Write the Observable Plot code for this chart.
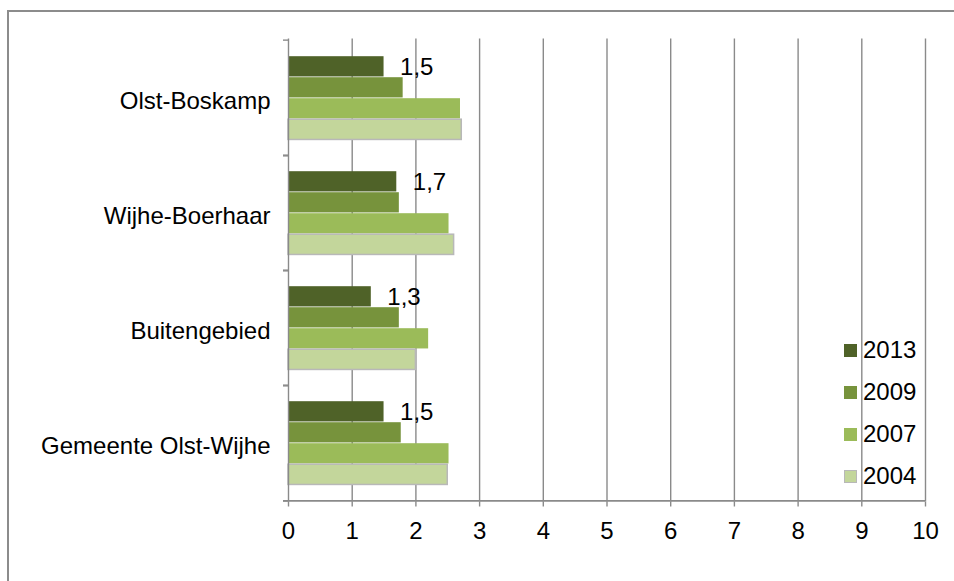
<!DOCTYPE html>
<html>
<head>
<meta charset="utf-8">
<script src="https://cdn.jsdelivr.net/npm/d3@7"></script>
<script src="https://cdn.jsdelivr.net/npm/@observablehq/plot@0.6"></script>
<style>
  html, body { margin: 0; padding: 0; background: #fff; }
  body { width: 954px; height: 581px; position: relative; overflow: hidden; font-family: "Liberation Sans", Arial, sans-serif; }
  #frame { position: absolute; left: 7px; top: 10px; width: 990px; height: 620px; border: 2px solid #8c8c8c; box-sizing: border-box; }
  #chart { position: absolute; left: 0; top: 0; }
  #legend { position: absolute; left: 844px; top: 0; }
  .item { position: absolute; left: 0; display: flex; align-items: center; white-space: nowrap; font-size: 24px; color: #000; height: 30px; }
  .sw { width: 13px; height: 13px; margin-right: 6px; box-sizing: border-box; }
</style>
</head>
<body>
<div id="frame"></div>
<div id="chart"></div>
<div id="legend"></div>
<script>
// ---- data ----
const categories = ["Olst-Boskamp", "Wijhe-Boerhaar", "Buitengebied", "Gemeente Olst-Wijhe"];
const years = ["2013", "2009", "2007", "2004"];
const values2013 = [1.5, 1.7, 1.3, 1.5];
const values2009 = [1.8, 1.74, 1.74, 1.77];
const values2007 = [2.7, 2.52, 2.2, 2.52];
const values2004 = [2.72, 2.6, 2.0, 2.5];
const xTicks = [0, 1, 2, 3, 4, 5, 6, 7, 8, 9, 10];
const colors = ["#4f6228", "#77933c", "#9bbb59", "#c3d69b"];

const series = [values2013, values2009, values2007, values2004];
const data = [];
categories.forEach((c, i) => {
  years.forEach((y, j) => data.push({cat: c, year: y, value: series[j][i]}));
});
const labelData = data.filter(d => d.year === "2013");

// layout (pixels)
const W = 954, H = 581;
const mTop = 38.5, mBottom = 79.5, mLeft = 288, mRight = 29;
const bw = (H - mTop - mBottom) / categories.length;   // band of one category
const barH = 21, padTop = 16.2;                         // grouped bar geometry
const font = "Liberation Sans, Arial, sans-serif";
const axisGray = "#8a8a8a";

const barMarks = years.map((yr, j) => {
  const top = padTop + j * barH;
  return Plot.barX(data.filter(d => d.year === yr), {
    y: "cat", x: "value", fill: "year",
    insetTop: top, insetBottom: bw - top - barH,
    ...(yr === "2004" ? {stroke: "#b8b8b8", strokeWidth: 1.5} : {})
  });
});

const chart = Plot.plot({
  width: W, height: H,
  marginTop: mTop, marginBottom: mBottom, marginLeft: mLeft, marginRight: mRight,
  style: {fontFamily: font, fontSize: "24px", color: "#000", background: "transparent", overflow: "visible"},
  x: {domain: [0, 10], ticks: xTicks, axis: null},
  y: {domain: categories, padding: 0, axis: null},
  color: {domain: years, range: colors},
  marks: [
    Plot.gridX(xTicks.slice(1), {stroke: axisGray, strokeOpacity: 1, strokeWidth: 1.4}),
    ...barMarks,
    Plot.ruleX([0], {stroke: axisGray, strokeWidth: 1.4}),
    Plot.ruleY([categories[categories.length - 1]], {y: d => d, dy: bw / 2, stroke: axisGray, strokeWidth: 1.6, insetLeft: -5}),
    Plot.text(labelData, {y: "cat", x: "value", dy: padTop + barH / 2 - bw / 2,
      text: d => d3.format(".1f")(d.value).replace(".", ","), textAnchor: "start", dx: 16, fill: "#000", fontSize: 24}),
    Plot.axisY({anchor: "left", tickSize: 0, tickPadding: 18, dy: 3, label: null, fontSize: 24, fill: "#000"}),
    Plot.axisY({anchor: "left", tickSize: 5, tickFormat: () => "", label: null, dy: -bw / 2, stroke: axisGray, strokeWidth: 1.4}),
    Plot.axisY({anchor: "left", tickSize: 5, tickFormat: () => "", label: null, dy: bw / 2, stroke: axisGray, strokeWidth: 1.4}),
    Plot.axisX(xTicks, {tickSize: 5, tickPadding: 15, label: null, fontSize: 24, fill: "#000", stroke: axisGray, strokeWidth: 1.4, tickFormat: d => String(d)})
  ]
});
document.getElementById("chart").appendChild(chart);

// legend
const legend = document.getElementById("legend");
const rowY = [350, 392, 434, 476];
years.forEach((y, j) => {
  const it = document.createElement("div");
  it.className = "item";
  it.style.top = (rowY[j] - 15) + "px";
  const sw = document.createElement("div");
  sw.className = "sw";
  sw.style.background = colors[j];
  if (y === "2004") sw.style.border = "1.5px solid #b8b8b8";
  it.appendChild(sw);
  const t = document.createElement("span");
  t.textContent = y;
  it.appendChild(t);
  legend.appendChild(it);
});
</script>
</body>
</html>
